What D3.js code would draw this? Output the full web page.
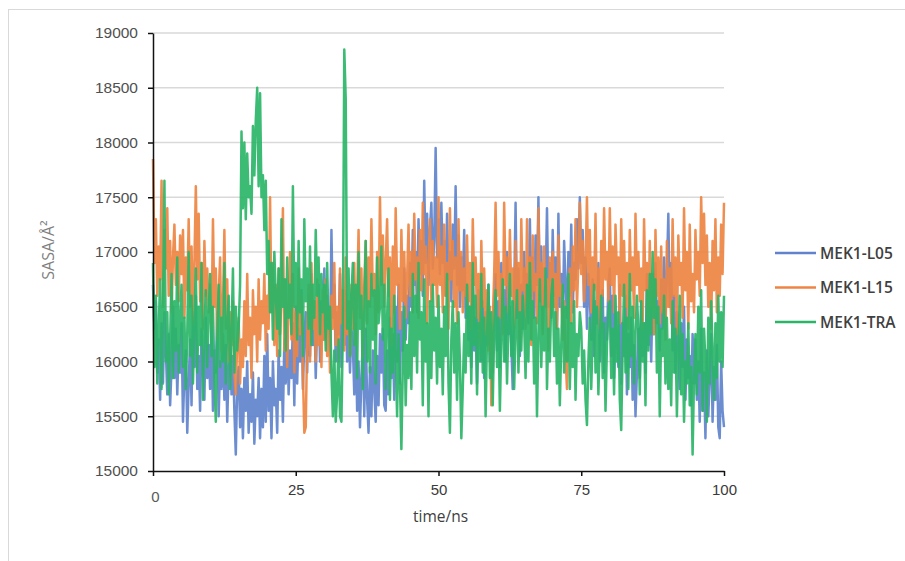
<!DOCTYPE html>
<html>
<head>
<meta charset="utf-8">
<script src="https://cdn.jsdelivr.net/npm/d3@7"></script>
<style>
  body { margin: 0; background: #fff; }
</style>
</head>
<body>
<div id="sasaChart"></div>
<script>
// series names / legend
const seriesNames = ["MEK1-L05", "MEK1-L15", "MEK1-TRA"];
const seriesColors = ["#5F84CD", "#EE8442", "#2AB567"];

// sample times in ns (one frame every 0.25 ns)
const times = d3.range(0, 100.25, 0.25);

// SASA values, 401 samples each (one row = 5 ns)
const l05 = [
  16700, 16300, 16550, 15900, 16200, 15650, 16350, 15800, 16450, 16100, 15700, 16250, 15600, 15950, 16500, 15850, 16300, 15700, 16150, 15900,
  16350, 15450, 15900, 16100, 15350, 15800, 16200, 15600, 16450, 15950, 16600, 15750, 16050, 15550, 16300, 16000, 15650, 16400, 15850, 16150,
  15750, 16350, 15550, 16100, 15900, 16450, 15500, 16000, 15750, 16250, 15650, 16150, 15450, 15950, 16300, 15700, 16050, 15550, 15150, 15800,
  15950, 15400, 15750, 15300, 15850, 15550, 16000, 15350, 15700, 15450, 15900, 15250, 15650, 15500, 15850, 15300, 15750, 15400, 16050, 15450,
  16250, 15550, 15850, 15300, 16000, 15600, 15750, 15350, 16100, 15650, 15950, 15450, 16200, 15800, 16400, 15700, 16100, 15850, 16350, 15600,
  16500, 15800, 16300, 16000, 16650, 15750, 16200, 16450, 15900, 16600, 16050, 16800, 16150, 16500, 15850, 16350, 16700, 16000, 16550, 16200,
  16850, 16200, 16600, 16350, 16100, 17200, 16400, 16700, 16000, 16450, 16250, 16800, 15950, 16500, 16150, 16650, 16000, 16400, 15900, 16300,
  16150, 15700, 16350, 15550, 16000, 15400, 15850, 16200, 15500, 16300, 15650, 15350, 15950, 15500, 16100, 15750, 15450, 16050, 15600, 16250,
  15900, 16300, 15600, 15550, 16100, 15700, 16400, 15850, 16250, 15650, 16500, 16000, 16700, 15800, 16450, 16100, 16850, 16200, 16600, 16350,
  16900, 16500, 17200, 16700, 17000, 16450, 17300, 16800, 17100, 16600, 17650, 16900, 17350, 16700, 17200, 17450, 16850, 17100, 17950, 16950,
  17300, 16800, 17450, 16900, 17100, 16600, 17350, 16750, 17000, 16550, 17250, 16850, 17600, 16700, 17150, 16500, 16950, 16650, 17200, 16400,
  16700, 16200, 16500, 15950, 16800, 16100, 16400, 15800, 16650, 16300, 16000, 16550, 15850, 16450, 16150, 16700, 16000, 16350, 15900, 16600,
  16800, 16100, 16550, 15950, 16900, 16300, 16650, 16000, 17000, 16250, 16500, 16150, 15750, 16600, 17450, 16400, 16850, 16050, 16700, 16300,
  17000, 16450, 16800, 16350, 17300, 16600, 16950, 16400, 17150, 16700, 17500, 16550, 17050, 16300, 16850, 16650, 17400, 16500, 16900, 16400,
  17200, 16600, 16950, 16300, 17350, 16500, 16800, 16250, 17100, 16700, 16400, 17000, 16600, 17250, 16450, 16900, 16750, 17300, 16850, 17500,
  16900, 17200, 16500, 16950, 16300, 16800, 16600, 16200, 16750, 16050, 16550, 16350, 16900, 16000, 16450, 16650, 15900, 16400, 16200, 16700,
  16850, 16050, 16600, 15850, 16450, 16200, 15950, 16700, 15800, 16350, 16050, 16600, 15700, 16250, 15950, 16400, 15650, 16150, 15500, 15900,
  16300, 15850, 16550, 16050, 16350, 15900, 16800, 16150, 16500, 16000, 16650, 16250, 16900, 16350, 16550, 16100, 16750, 16300, 16950, 16400,
  16800, 17350, 16500, 16900, 16100, 16600, 15900, 16450, 16200, 15750, 16350, 15950, 16500, 15650, 16200, 15850, 16050, 15600, 16250, 15800,
  16200, 15650, 16000, 15450, 16300, 15550, 15900, 15300, 16100, 15500, 15850, 16250, 15450, 15950, 15650, 16150, 15400, 15300, 16000, 15550,
  15400
];
const l15 = [
  17850, 16900, 17300, 16600, 17050, 16750, 17650, 16500, 17200, 16850, 17400, 16600, 17100, 16450, 16950, 17250, 16700, 17000, 16550, 17150,
  16800, 17200, 16400, 16950, 16650, 17300, 16500, 17050, 16350, 16900, 17600, 16750, 17350, 16550, 16900, 16300, 17100, 16600, 16850, 16450,
  16700, 16300, 17300, 16500, 16850, 16200, 16600, 16950, 16100, 16500, 17200, 16300, 16750, 16000, 16450, 16150, 16550, 15900, 15700, 16200,
  16400, 15800, 16200, 15950, 16550, 16050, 16800, 16150, 16400, 15850, 16650, 16250, 16500, 16000, 16750, 16200, 16550, 16350, 16800, 16100,
  16600, 16300, 17500, 16450, 16900, 16150, 16700, 16050, 16850, 16250, 16600, 17400, 16100, 16750, 15950, 16500, 17000, 16200, 16800, 15900,
  16450, 16050, 16850, 16250, 16600, 15900, 15350, 15400, 16200, 16700, 16000, 16900, 16300, 16550, 16000, 16750, 16150, 16400, 15950, 16650,
  16200, 16750, 16050, 16450, 15900, 16600, 16300, 16900, 16150, 16500, 16000, 16850, 16350, 16650, 16100, 16950, 16250, 16550, 16050, 16700,
  16300, 16900, 16150, 16600, 17200, 16400, 16850, 16050, 16700, 17100, 16350, 16950, 16500, 17300, 16600, 16800, 16250, 17000, 16450, 17500,
  16700, 17150, 16500, 16900, 17300, 16600, 16950, 16150, 17050, 16450, 17400, 16700, 16850, 16300, 17200, 16550, 17000, 16400, 16750, 17250,
  16600, 17000, 16450, 17350, 16750, 16950, 16400, 17200, 16650, 17450, 16800, 17050, 16350, 16900, 17300, 16550, 17100, 16700, 16950, 16500,
  17500, 16700, 17050, 16450, 17250, 16600, 16900, 16300, 17400, 16750, 17100, 16500, 16950, 16350, 17300, 16650, 17000, 16450, 16850, 16600,
  17150, 16550, 16900, 16300, 17300, 16700, 16950, 16400, 16800, 16150, 17100, 16500, 16850, 16250, 16650, 16100, 16500, 15600, 16350, 16800,
  17450, 16600, 17000, 16400, 16800, 16250, 17450, 16700, 16950, 16450, 17200, 16600, 16850, 16300, 17100, 16550, 16900, 16200, 17300, 16650,
  16850, 16300, 17300, 16550, 16950, 16150, 17150, 16650, 16800, 16350, 17400, 16600, 16900, 16250, 17050, 16500, 16750, 16100, 16950, 16450,
  17000, 16500, 16800, 16300, 17150, 16600, 16700, 16200, 16550, 16050, 15750, 16400, 16850, 16350, 17050, 16650, 17300, 16500, 16900, 17450,
  16800, 17100, 16550, 16900, 17500, 16700, 17200, 16450, 16950, 16650, 17350, 16500, 16850, 16300, 17100, 16600, 17400, 16750, 17000, 16550,
  17400, 16700, 17050, 16450, 17250, 16800, 16950, 16350, 17300, 16600, 17100, 16500, 16900, 16300, 17200, 16650, 16950, 16400, 17350, 16700,
  17000, 16550, 16850, 16300, 17300, 16650, 16900, 16400, 17100, 16500, 16800, 16250, 17200, 16600, 16950, 16350, 17050, 16450, 16750, 16200,
  17100, 16500, 16850, 16350, 17300, 16600, 16950, 16250, 17150, 16700, 16900, 16400, 17400, 16650, 17000, 16300, 17250, 16550, 16800, 16450,
  17200, 16750, 17000, 16600, 17500, 16900, 17350, 16700, 17150, 16500, 16900, 16300, 17100, 16650, 17300, 16450, 16950, 16600, 17250, 16800,
  17450
];
const tra = [
  16900, 15950, 16600, 15800, 16300, 16750, 15750, 16500, 17650, 16000, 16450, 15700, 16200, 16800, 15850, 16550, 16100, 16950, 15900, 16400,
  16700, 15950, 16400, 15750, 16250, 17000, 16050, 16600, 15800, 16350, 16850, 15900, 16500, 16150, 16900, 15650, 16300, 16650, 15950, 16450,
  16800, 16050, 16500, 15850, 15450, 16200, 16700, 15950, 16400, 16000, 16900, 15800, 16350, 16600, 15750, 16250, 16850, 15900, 16500, 16100,
  16300, 16700, 18100, 17400, 18000, 17300, 17900, 17500, 17600, 17350, 18150, 17700, 18200, 18500, 17600, 18450, 17500, 17700, 17200, 17650,
  16800, 17100, 16450, 16900, 16200, 17000, 16600, 16300, 16850, 16050, 17300, 16500, 16750, 16100, 16950, 16400, 16700, 16250, 17600, 16500,
  16900, 16200, 17100, 16450, 16750, 16050, 17300, 16550, 16850, 16300, 17050, 16150, 16700, 16400, 17200, 16600, 16950, 16250, 16800, 16450,
  16700, 16100, 16900, 16300, 16500, 15900, 15500, 16100, 15450, 15700, 16200, 15500, 15450, 16300, 18850, 18400, 16300, 16850, 16050, 16600,
  16900, 16150, 16700, 15850, 17000, 16300, 16600, 15750, 16450, 17100, 16000, 16550, 15900, 16800, 16200, 16650, 15800, 16950, 16350, 16500,
  17050, 16200, 16700, 15750, 16400, 16850, 15650, 16300, 15900, 16600, 16050, 15500, 16250, 15800, 15200, 15950, 16500, 15600, 16150, 15850,
  16450, 15750, 16800, 16050, 16600, 15900, 16900, 16200, 16450, 15600, 16750, 16000, 16350, 15500, 16550, 15850, 16700, 16100, 16400, 15800,
  16600, 15950, 16300, 15700, 16500, 16050, 16800, 15800, 15350, 16200, 16550, 15900, 16350, 15650, 16450, 16000, 15300, 15750, 16250, 15900,
  16700, 16050, 16500, 15800, 16900, 16150, 16600, 15700, 16350, 16000, 16800, 15900, 16400, 15500, 16250, 16700, 15850, 16450, 15600, 16300,
  16650, 15950, 16400, 15550, 16200, 16750, 16000, 16500, 15800, 16350, 16800, 16050, 16550, 15750, 16300, 16650, 15900, 16450, 16100, 16600,
  16350, 15850, 16700, 16000, 16900, 16200, 16550, 15800, 16400, 15500, 16250, 16750, 15950, 16500, 16100, 16850, 15750, 16300, 16000, 16600,
  16750, 16050, 16450, 15800, 16300, 15600, 16150, 16700, 15900, 16500, 16000, 16800, 15750, 16350, 15950, 16550, 15650, 16250, 16050, 16450,
  16300, 15800, 16100, 15650, 15420, 16000, 16400, 15750, 16250, 16700, 15900, 16500, 15700, 16200, 16600, 15850, 16350, 15550, 16150, 16450,
  16550, 15850, 16300, 15700, 16600, 16000, 16450, 15650, 15375, 16100, 16700, 15900, 16400, 15750, 16800, 16050, 16500, 15800, 16250, 16600,
  16300, 15700, 16550, 16000, 16350, 15600, 16650, 16100, 16800, 16250, 17000, 16400, 16750, 15900, 16500, 15500, 16300, 16050, 16600, 15800,
  16400, 15750, 16200, 15600, 16550, 15900, 16300, 15500, 16100, 16600, 15700, 16250, 15450, 16000, 15800, 16350, 15600, 15950, 15150, 15850,
  16250, 15700, 16500, 15900, 16650, 15550, 16300, 16000, 15450, 16400, 15800, 16550, 16100, 15650, 16350, 15850, 16600, 16000, 16450, 15950,
  16600
];

// axis ticks
const yTicks = [15000, 15500, 16000, 16500, 17000, 17500, 18000, 18500, 19000];
const xTicks = [0, 25, 50, 75, 100];

function renderSasaChart(selector){
    const allSeries = [l05, l15, tra];

    // set the dimensions and margins of the graph
    const margin = {top: 33, right: 181, bottom: 90, left: 153},
        width = 905 - margin.left - margin.right,
        height = 561 - margin.top - margin.bottom;

    const root = d3.select("#" + selector)
        .append("svg")
        .attr("width", 905)
        .attr("height", 561)
        .style("font-family", "'Open Sans', 'Liberation Sans', sans-serif");

    // light chart frame
    root.append("rect")
        .attr("x", 8.5).attr("y", 9.5)
        .attr("width", 1000).attr("height", 600)
        .attr("fill", "none")
        .attr("stroke", "#d9d9d9");

    const svg = root.append("g")
        .attr("transform", `translate(${margin.left},${margin.top})`);

    const x = d3.scaleLinear().domain([0, 100]).range([0, width]);
    const y = d3.scaleLinear().domain([15000, 19000]).range([height, 0]);

    // gridlines
    svg.append("g")
        .selectAll("line")
        .data(yTicks.slice(1))
        .join("line")
        .attr("x1", 0).attr("x2", width)
        .attr("y1", d => y(d)).attr("y2", d => y(d))
        .attr("stroke", "#d9d9d9")
        .attr("stroke-width", 1.5);

    // lines, blue first so green ends up on top
    const line = d3.line()
        .x((d, i) => x(times[i]))
        .y(d => y(d));

    svg.append("g")
        .selectAll("path")
        .data(allSeries)
        .join("path")
        .attr("d", d => line(d))
        .attr("fill", "none")
        .attr("stroke", (d, i) => seriesColors[i])
        .attr("stroke-width", 2.5)
        .attr("stroke-opacity", 0.92)
        .attr("stroke-linejoin", "round");

    // Y axis
    const yAxis = svg.append("g")
        .call(d3.axisLeft(y).tickValues(yTicks).tickFormat(d3.format("d"))
            .tickSize(5).tickSizeOuter(0).tickPadding(10));
    yAxis.selectAll("path, line").attr("stroke", "#111").attr("stroke-width", 1.5);
    yAxis.selectAll("text")
        .style("font-size", "15.5px")
        .attr("fill", "#505050");

    // X axis
    const xAxis = svg.append("g")
        .attr("transform", `translate(0, ${height})`)
        .call(d3.axisBottom(x).tickValues(xTicks).tickSize(5).tickSizeOuter(0).tickPadding(8));
    xAxis.selectAll("path, line").attr("stroke", "#111").attr("stroke-width", 1.5);
    xAxis.selectAll("text")
        .style("font-size", "15px")
        .attr("fill", "#3a3a3a")
        .attr("y", d => d === 0 ? 20 : 13);
    xAxis.selectAll("text").filter(d => d === 0).attr("fill", "#595959").attr("x", 2);

    // axis titles
    svg.append("text")
        .attr("x", width / 2 + 2)
        .attr("y", height + 51)
        .attr("text-anchor", "middle")
        .style("font-size", "15.5px")
        .attr("fill", "#404040")
        .text("time/ns");

    svg.append("text")
        .attr("transform", `translate(${48 - margin.left},${250 - margin.top}) rotate(-90)`)
        .attr("text-anchor", "middle")
        .attr("dy", "0.35em")
        .style("font-size", "16px")
        .attr("fill", "#7f7f7f")
        .text("SASA/Å²");

    // legend
    const legend = root.append("g")
        .selectAll("g")
        .data(seriesNames)
        .join("g")
        .attr("transform", (d, i) => `translate(775, ${253 + i * 34.5})`);
    legend.append("line")
        .attr("x1", 0).attr("x2", 41)
        .attr("stroke", (d, i) => seriesColors[i])
        .attr("stroke-width", 2.5);
    legend.append("text")
        .attr("x", 45)
        .attr("dy", "0.36em")
        .style("font-size", "15.5px")
        .style("font-weight", 600)
        .attr("fill", "#404040")
        .text(d => d);
}

renderSasaChart("sasaChart");
</script>
</body>
</html>
